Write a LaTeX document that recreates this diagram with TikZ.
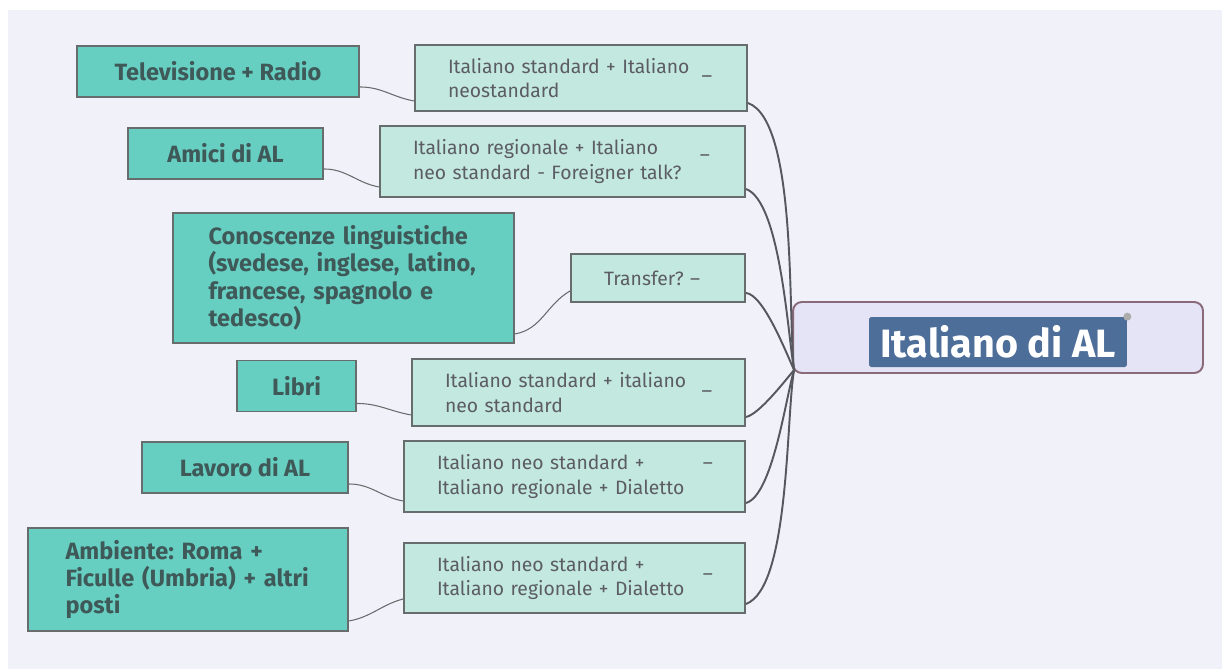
\documentclass[tikz,border=0pt]{standalone}
\usepackage{fontspec}
\setmainfont{Fira Sans}
\usepackage{xcolor}
\usepackage{tikz}
\usetikzlibrary{positioning}
\definecolor{sfondo}{HTML}{F1F1FA}
\definecolor{verdescuro}{HTML}{66CFC2}
\definecolor{verdechiaro}{HTML}{C2E8DF}
\definecolor{bordo}{HTML}{676C6C}
\definecolor{testoscuro}{HTML}{3F5858}
\definecolor{testogrigio}{HTML}{5C5C64}
\definecolor{linea}{HTML}{55585E}
\definecolor{lilla}{HTML}{E4E4F6}
\definecolor{bordolilla}{HTML}{8A6A78}
\definecolor{blutitolo}{HTML}{4E6E9A}
\tikzset{
  fonte/.style={draw=bordo, fill=verdescuro, line width=1.1pt, align=left, minimum width=#1, minimum height=1.02cm, text=testoscuro, font=\fontsize{13.4}{15.6}\selectfont\bfseries},
  fonte/.default=4cm,
  varieta/.style={draw=bordo, fill=verdechiaro, line width=1.1pt, align=left, text width=#1, inner xsep=0.66cm, text=testogrigio, font=\fontsize{11}{14}\selectfont},
  varieta/.default=5.5cm,
  segno/.style={text=testogrigio, font=\fontsize{11}{14}\selectfont, inner sep=0pt},
  centro/.style={draw=bordolilla, fill=lilla, line width=1.1pt, rounded corners=5pt, minimum width=8.2cm, minimum height=1.42cm},
  titolo/.style={fill=blutitolo, text=white, rounded corners=1pt, minimum width=5.16cm, minimum height=1.0cm, inner sep=0pt, font=\fontsize{22.5}{26}\selectfont\bfseries},
  filo/.style={draw=bordo, line width=0.6pt},
  ramo/.style={draw=linea, line width=1.1pt, looseness=0.5},
}
\frenchspacing
\begin{document}
\begin{tikzpicture}[x=0.02cm, y=-0.02cm]
  \fill[white] (0,0) rectangle (1222,669);
  \fill[sfondo] (8,10) rectangle (1222,669);
  \useasboundingbox (0,0) rectangle (1222,669);

  % nodo centrale
  \node[centro] (centro) at (998,337.5) {};
  \node[titolo] (titolo) at (998,342) {Italiano di AL};
  \fill[gray!65] (titolo.north east) circle (0.08cm);

  % fonti (sinistra)
  \node[fonte=5.64cm] (tv) at (218,71.5) {Televisione + Radio};
  \node[fonte=3.9cm] (amici) at (225.5,153.5) {Amici di AL};
  \node[fonte=6.82cm, minimum height=2.6cm, text width=5.4cm] (ling) at (343.5,278) {Conoscenze linguistiche\\(svedese, inglese, latino,\\francese, spagnolo e\\tedesco)};
  \node[fonte=2.38cm] (libri) at (296.5,386) {Libri};
  \node[fonte=4.12cm] (lavoro) at (245,467.5) {Lavoro di AL};
  \node[fonte=6.4cm, minimum height=2.06cm, text width=4.9cm] (amb) at (188,579.5) {Ambiente: Roma +\\Ficulle (Umbria) + altri\\posti};

  % varieta (centro)
  \node[varieta=5.32cm, minimum height=1.32cm] (v1) at (581,78) {Italiano standard + Italiano\\neostandard};
  \node[varieta=5.98cm, minimum height=1.42cm] (v2) at (562.5,161.5) {Italiano regionale + Italiano\\neo standard - Foreigner talk?};
  \node[varieta=2.16cm, minimum height=0.96cm] (v3) at (658,278) {Transfer? --};
  \node[varieta=5.34cm, minimum height=1.34cm] (v4) at (578.5,392.5) {Italiano standard + italiano\\neo standard};
  \node[varieta=5.5cm, minimum height=1.42cm] (v5) at (574.5,476.5) {Italiano neo standard +\\Italiano regionale + Dialetto};
  \node[varieta=5.5cm, minimum height=1.4cm] (v6) at (574.5,578) {Italiano neo standard +\\Italiano regionale + Dialetto};

  % segni
  \node[segno] (s1) at (707,76) {\_};
  \node[segno] (s2) at (705,158) {--};
  \node[segno] (s4) at (707,391) {\_};
  \node[segno] (s5) at (708,466) {--};
  \node[segno] (s6) at (708,577) {--};

  % collegamenti fonte - varieta
  \draw[filo] ([yshift=0.22cm]tv.south east) to[out=0,in=170] ([yshift=0.22cm]v1.south west);
  \draw[filo] ([yshift=0.22cm]amici.south east) to[out=0,in=170] ([yshift=0.22cm]v2.south west);
  \draw[filo] ([yshift=0.2cm]ling.south east) to[out=10,in=210] ([yshift=0.24cm]v3.south west);
  \draw[filo] ([yshift=0.18cm]libri.south east) to[out=0,in=170] ([yshift=0.24cm]v4.south west);
  \draw[filo] ([yshift=0.2cm]lavoro.south east) to[out=0,in=170] ([yshift=0.24cm]v5.south west);
  \draw[filo] ([yshift=0.22cm]amb.south east) to[out=10,in=195] ([yshift=0.3cm]v6.south west);

  % collegamenti varieta - centro
  \draw[ramo] ([yshift=0.18cm]v1.south east) to[out=-20,in=97] ([xshift=0.04cm,yshift=0.08cm]centro.south west);
  \draw[ramo] ([yshift=0.18cm]v2.south east) to[out=-20,in=100] ([xshift=0.04cm,yshift=0.08cm]centro.south west);
  \draw[ramo] ([yshift=0.2cm]v3.south east) to[out=-5,in=115] ([xshift=0.04cm,yshift=0.08cm]centro.south west);
  \draw[ramo] ([yshift=0.2cm]v4.south east) to[out=10,in=-130] ([xshift=0.04cm,yshift=0.08cm]centro.south west);
  \draw[ramo] ([yshift=0.2cm]v5.south east) to[out=15,in=-107] ([xshift=0.04cm,yshift=0.08cm]centro.south west);
  \draw[ramo] ([yshift=0.2cm]v6.south east) to[out=20,in=-100] ([xshift=0.04cm,yshift=0.08cm]centro.south west);
\end{tikzpicture}
\end{document}
